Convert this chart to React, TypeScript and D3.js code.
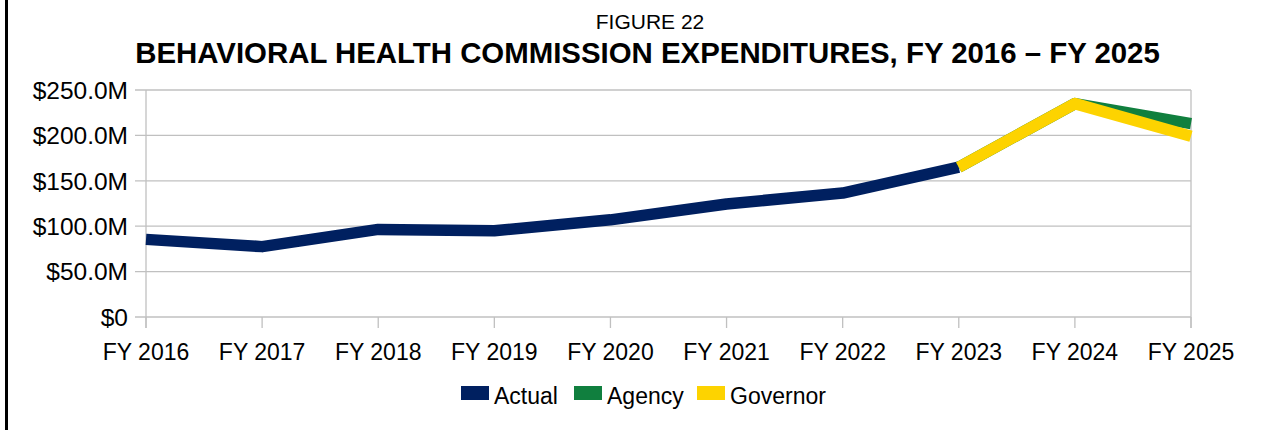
import React, { useEffect, useRef } from "react";
import * as d3 from "d3";

const years = ["FY 2016", "FY 2017", "FY 2018", "FY 2019", "FY 2020", "FY 2021", "FY 2022", "FY 2023", "FY 2024", "FY 2025"];
// values in millions
const actual = [85.5, 77.5, 96.5, 95, 107, 124.5, 136.5, 165, null, null];
const agency = [null, null, null, null, null, null, null, 165, 235, 213];
const governor = [null, null, null, null, null, null, null, 165, 235, 199];
const yTicks = [0, 50, 100, 150, 200, 250];

const seriesList = [
  { name: "Actual", values: actual, color: "#002060" },
  { name: "Agency", values: agency, color: "#107f3e" },
  { name: "Governor", values: governor, color: "#fdd300" },
];

function App() {
  const ref = useRef<SVGSVGElement>(null);
  const width = 1288;
  const height = 430;
  const margin = { top: 90, right: 97, bottom: 113, left: 146 };

  useEffect(() => {
    const svg = d3.select(ref.current);
    svg.selectAll("*").remove();
    const font = "'Liberation Sans', Arial, sans-serif";

    // left border
    svg.append("rect").attr("x", 5).attr("y", 0).attr("width", 3).attr("height", height).attr("fill", "#000");

    svg.append("text")
      .attr("x", 650).attr("y", 29)
      .attr("text-anchor", "middle")
      .style("font-family", font).style("font-size", "21px")
      .text("FIGURE 22");
    svg.append("text")
      .attr("x", 647.5).attr("y", 63)
      .attr("text-anchor", "middle")
      .style("font-family", font).style("font-size", "29.4px").style("font-weight", "bold")
      .text("BEHAVIORAL HEALTH COMMISSION EXPENDITURES, FY 2016 – FY 2025");

    const x = d3.scalePoint()
      .domain(years)
      .range([margin.left, width - margin.right]);
    const y = d3.scaleLinear()
      .domain([0, 250])
      .range([height - margin.bottom, margin.top]);

    const g = svg.append("g");
    // horizontal grid + left ticks
    g.selectAll(".grid")
      .data(yTicks)
      .enter()
      .append("line")
        .attr("x1", margin.left - 11)
        .attr("x2", width - margin.right)
        .attr("y1", d => y(d))
        .attr("y2", d => y(d))
        .attr("stroke", "#c0c0c0")
        .attr("stroke-width", 1.3);
    // axis lines
    g.append("line")
      .attr("x1", margin.left).attr("x2", margin.left)
      .attr("y1", margin.top).attr("y2", height - margin.bottom + 11)
      .attr("stroke", "#c0c0c0").attr("stroke-width", 1.3);
    g.append("line")
      .attr("x1", width - margin.right).attr("x2", width - margin.right)
      .attr("y1", margin.top).attr("y2", height - margin.bottom + 11)
      .attr("stroke", "#c0c0c0").attr("stroke-width", 1.3);
    g.selectAll(".xtick")
      .data(years)
      .enter()
      .append("line")
        .attr("x1", d => x(d)!)
        .attr("x2", d => x(d)!)
        .attr("y1", height - margin.bottom)
        .attr("y2", height - margin.bottom + 11)
        .attr("stroke", "#c0c0c0")
        .attr("stroke-width", 1.3);

    // y labels
    g.selectAll(".ylab")
      .data(yTicks)
      .enter()
      .append("text")
        .attr("x", margin.left - 18)
        .attr("y", d => y(d))
        .attr("dy", "0.36em")
        .attr("text-anchor", "end")
        .style("font-family", font).style("font-size", "24.5px")
        .text(d => d === 0 ? "$0" : "$" + d.toFixed(1) + "M");
    // x labels
    g.selectAll(".xlab")
      .data(years)
      .enter()
      .append("text")
        .attr("x", d => x(d)!)
        .attr("y", height - margin.bottom + 43)
        .attr("text-anchor", "middle")
        .style("font-family", font).style("font-size", "23px")
        .text(d => d);

    const line = d3.line<number | null>()
      .defined(d => d != null)
      .x((d, i) => x(years[i])!)
      .y(d => y(d as number));

    seriesList.forEach(s => {
      g.append("path")
        .datum(s.values)
        .attr("d", line)
        .attr("fill", "none")
        .attr("stroke", s.color)
        .attr("stroke-width", 11.5)
        .attr("stroke-linejoin", "round");
    });

    // legend
    const legendX = [461, 574, 697];
    const leg = svg.selectAll(".leg")
      .data(seriesList)
      .enter()
      .append("g")
        .attr("transform", (d, i) => "translate(" + legendX[i] + ",386)");
    leg.append("rect")
      .attr("width", 28).attr("height", 14)
      .attr("fill", d => d.color);
    leg.append("text")
      .attr("x", 33).attr("y", 18)
      .style("font-family", font).style("font-size", "23px")
      .text(d => d.name);
  }, []);

  return (
    <svg ref={ref} width={width} height={height} style={{ position: "absolute", left: 0, top: 0 }} />
  );
}

export default App;
